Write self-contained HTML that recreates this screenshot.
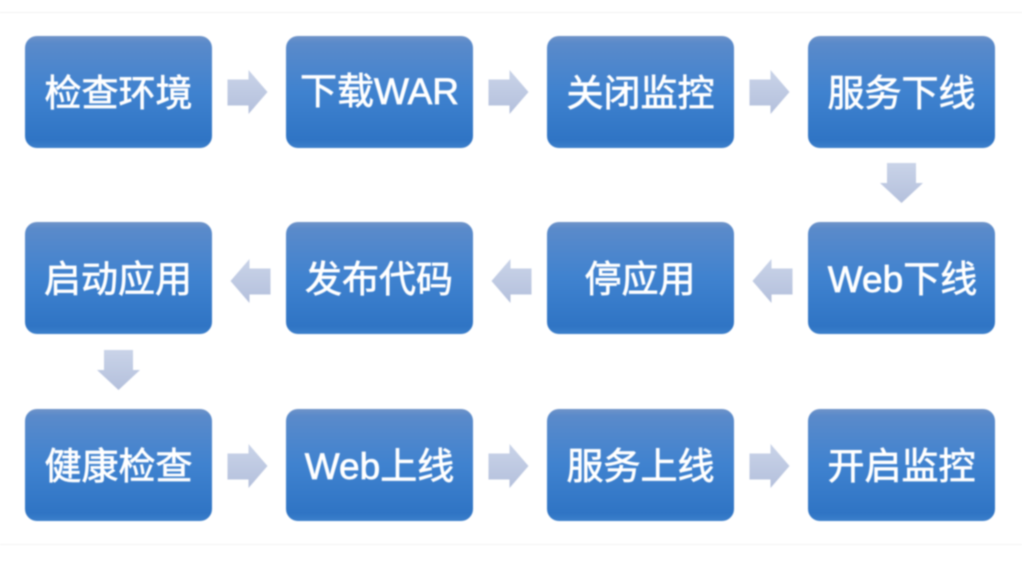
<!DOCTYPE html>
<html><head><meta charset="utf-8">
<style>
html,body{margin:0;padding:0;background:#fff;width:1022px;height:568px;overflow:hidden}
svg{display:block;filter:blur(.7px)}
text{font-family:"Liberation Sans","Noto Sans CJK SC",sans-serif;font-size:37px;fill:#fff;stroke:#fff;stroke-width:.7px;text-anchor:middle}
</style></head><body>
<svg width="1022" height="568" viewBox="0 0 1022 568" xmlns="http://www.w3.org/2000/svg">
<defs>
<linearGradient id="g" x1="0" y1="0" x2="0" y2="1">
<stop offset="0" stop-color="#6f93c8"/><stop offset=".06" stop-color="#5a8aca"/><stop offset=".5" stop-color="#3f82cf"/><stop offset=".93" stop-color="#2f74c4"/><stop offset="1" stop-color="#3b7fcb"/>
</linearGradient>
<linearGradient id="a" x1="0" y1="0" x2="0" y2="1">
<stop offset="0" stop-color="#c9d3e8"/><stop offset="1" stop-color="#b4c0dc"/>
</linearGradient>
<path id="r" d="M0 9.500H21V0L40 22L21 44V35.500H0Z" fill="url(#a)"/>
<path id="l" d="M40 9.500H19V0L0 22L19 44V35.500H40Z" fill="url(#a)"/>
<path id="d" d="M7 0H36V20H43L21.500 40L0 20H7Z" fill="url(#a)"/>
<rect id="b" width="187" height="112" rx="12" fill="url(#g)"/>
</defs>
<line x1="0" y1="12.500" x2="1022" y2="12.500" stroke="#f0f0f0"/>
<line x1="0" y1="544.500" x2="1022" y2="544.500" stroke="#f2f2f2"/>
<use href="#b" x="25" y="36"/><use href="#b" x="286" y="36"/><use href="#b" x="547" y="36"/><use href="#b" x="808" y="36"/>
<use href="#b" x="25" y="222"/><use href="#b" x="286" y="222"/><use href="#b" x="547" y="222"/><use href="#b" x="808" y="222"/>
<use href="#b" x="25" y="409"/><use href="#b" x="286" y="409"/><use href="#b" x="547" y="409"/><use href="#b" x="808" y="409"/>
<use href="#r" x="227.500" y="70"/><use href="#r" x="488.500" y="70"/><use href="#r" x="749.500" y="70"/>
<use href="#d" x="880" y="163"/>
<use href="#l" x="230.500" y="259"/><use href="#l" x="491.500" y="259"/><use href="#l" x="752.500" y="259"/>
<use href="#d" x="97" y="350"/>
<use href="#r" x="227.500" y="444"/><use href="#r" x="488.500" y="444"/><use href="#r" x="749.500" y="444"/>
<text x="118.500" y="106">检查环境</text>
<text x="379.500" y="104">下载WAR</text>
<text x="640.500" y="106">关闭监控</text>
<text x="901.500" y="106">服务下线</text>
<text x="118" y="292">启动应用</text>
<text x="379" y="292">发布代码</text>
<text x="640" y="292">停应用</text>
<text x="902.500" y="292">Web下线</text>
<text x="118.500" y="479">健康检查</text>
<text x="379.500" y="479">Web上线</text>
<text x="640.500" y="479">服务上线</text>
<text x="901.500" y="479">开启监控</text>
</svg>
</body></html>
